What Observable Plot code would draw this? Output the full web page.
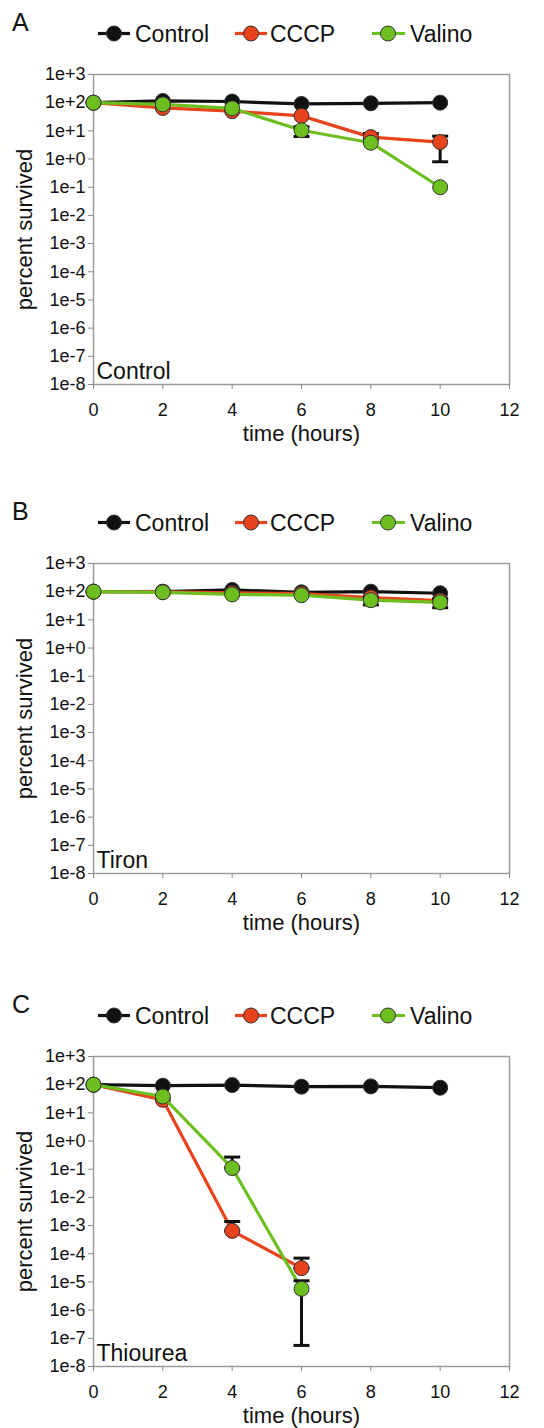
<!DOCTYPE html>
<html><head><meta charset="utf-8">
<script src="https://cdn.jsdelivr.net/npm/d3@7"></script>
<script src="https://cdn.jsdelivr.net/npm/@observablehq/plot@0.6"></script>
<style>
html,body{margin:0;padding:0;background:#fff;overflow:hidden;}
body{font-family:"Liberation Sans",Arial,sans-serif;color:#111;}
#root{position:relative;width:544px;height:1428px;overflow:hidden;}
.panel{position:absolute;left:0;width:544px;height:489px;}
.letter{position:absolute;left:12px;top:10px;font-size:25px;line-height:1;}
.legend{position:absolute;left:0;top:0;}
.plot{position:absolute;left:0;top:50px;}
</style>
</head><body>
<div id="root"></div>
<script>
// ---------- data ----------
const hours = [0, 2, 4, 6, 8, 10];
const seriesNames = ["Control", "CCCP", "Valino"];
const seriesColors = ["#111111", "#e8431c", "#6dbf1f"];
const panelLetters = ["A", "B", "C"];
const panelLabels = ["Control", "Tiron", "Thiourea"];
const panelOffsets = [0, 489, 982];

// panel A (Control)
const controlA = [100, 115, 110, 90, 95, 100];
const cccpA    = [100, 65, 50, 34, 6, 4];
const valinoA  = [100, 87, 63, 10.5, 3.8, 0.1];
// panel B (Tiron)
const controlB = [100, 100, 115, 95, 100, 88];
const cccpB    = [100, 98, 90, 85, 62, 48];
const valinoB  = [100, 95, 80, 75, 50, 42];
// panel C (Thiourea)
const controlC = [100, 92, 97, 85, 87, 78];
const cccpC    = [100, 29, 6.5e-4, 3.1e-5, null, null];
const valinoC  = [100, 38, 0.11, 5.7e-6, null, null];

// error bars: [series, hour, low, high]
const errorsA = [["CCCP", 8, 5, 8], ["CCCP", 10, 0.8, 6.5], ["Valino", 6, 6.3, 14]];
const errorsB = [["Valino", 8, 34, 62], ["Valino", 10, 27, 56]];
const errorsC = [["CCCP", 4, 6.5e-4, 1.4e-3], ["CCCP", 6, 3.1e-5, 7e-5],
                 ["Valino", 4, 0.11, 0.27], ["Valino", 6, 5.6e-8, 1.1e-5]];

const yTicks = [1e3, 1e2, 1e1, 1e0, 1e-1, 1e-2, 1e-3, 1e-4, 1e-5, 1e-6, 1e-7, 1e-8];
const xTicks = [0, 2, 4, 6, 8, 10, 12];

const panels = [
  {values: [controlA, cccpA, valinoA], errors: errorsA},
  {values: [controlB, cccpB, valinoB], errors: errorsB},
  {values: [controlC, cccpC, valinoC], errors: errorsC}
];

// ---------- drawing ----------
const FONT = "Liberation Sans, Arial, sans-serif";
const fmt = d => { const e = Math.round(Math.log10(d)); return "1e" + (e >= 0 ? "+" + e : e); };
const capSymbol = { draw(ctx) { ctx.moveTo(-8, 0); ctx.lineTo(8, 0); } };
const color = name => seriesColors[seriesNames.indexOf(name)];

function makePlot(panel, label) {
  const marks = [
    Plot.frame({stroke: "#9a9a9a", strokeWidth: 1.5}),
    Plot.axisY({ticks: yTicks, tickFormat: fmt, tickSize: 5, tickPadding: 3, fontSize: 18,
                stroke: "#888", fill: "#111", label: null}),
    Plot.axisX({ticks: xTicks, tickSize: 5, tickPadding: 14, fontSize: 18,
                stroke: "#888", fill: "#111", label: null}),
    Plot.text(["percent survived"], {frameAnchor: "left", rotate: -90, textAnchor: "middle", lineAnchor: "middle",
                                      dx: -69, fontSize: 22, fill: "#111"}),
    Plot.text(["time (hours)"], {frameAnchor: "bottom", textAnchor: "middle", lineAnchor: "bottom",
                                  dy: 56, fontSize: 22, fill: "#111"}),
    Plot.text([label], {frameAnchor: "bottom-left", textAnchor: "start", lineAnchor: "bottom", dx: 3, dy: -6, fontSize: 23, fill: "#111"})
  ];
  seriesNames.forEach((name, i) => {
    const rows = hours.map((h, j) => ({hour: h, value: panel.values[i][j]})).filter(d => d.value != null);
    const errs = panel.errors.filter(e => e[0] === name).map(e => ({hour: e[1], low: e[2], high: e[3]}));
    marks.push(Plot.line(rows, {x: "hour", y: "value", stroke: seriesColors[i], strokeWidth: 3.2}));
    if (errs.length) {
      marks.push(Plot.ruleX(errs, {x: "hour", y1: "low", y2: "high", stroke: "#111", strokeWidth: 3}));
      marks.push(Plot.dot(errs, {x: "hour", y: "high", symbol: capSymbol, stroke: "#111", fill: "none", strokeWidth: 3}));
      marks.push(Plot.dot(errs, {x: "hour", y: "low", symbol: capSymbol, stroke: "#111", fill: "none", strokeWidth: 3}));
    }
    marks.push(Plot.dot(rows, {x: "hour", y: "value", r: 7.5, fill: seriesColors[i], stroke: "#333", strokeWidth: 1}));
  });
  return Plot.plot({
    width: 544, height: 396,
    marginTop: 24, marginBottom: 62, marginLeft: 93, marginRight: 35,
    style: {fontFamily: FONT, background: "transparent", color: "#111", overflow: "visible"},
    x: {domain: [0, 12]},
    y: {type: "log", domain: [1e-8, 1e3]},
    marks
  });
}

function makeLegend() {
  const svg = d3.create("svg").attr("width", 544).attr("height", 50)
    .style("font-family", FONT);
  const items = [
    {name: seriesNames[0], x0: 98, x1: 130, cx: 114, tx: 135},
    {name: seriesNames[1], x0: 235, x1: 267, cx: 251, tx: 270},
    {name: seriesNames[2], x0: 372, x1: 405, cx: 388, tx: 410}
  ];
  const cy = 33.5;
  items.forEach(it => {
    svg.append("line").attr("x1", it.x0).attr("x2", it.x1).attr("y1", cy).attr("y2", cy)
      .attr("stroke", color(it.name)).attr("stroke-width", 3.2);
    svg.append("circle").attr("cx", it.cx).attr("cy", cy).attr("r", 7.5)
      .attr("fill", color(it.name)).attr("stroke", "#333").attr("stroke-width", 1);
    svg.append("text").attr("x", it.tx).attr("y", cy + 8.2).attr("font-size", 23)
      .attr("fill", "#111").text(it.name);
  });
  return svg.node();
}

const root = document.getElementById("root");
panels.forEach((panel, k) => {
  const div = document.createElement("div");
  div.className = "panel";
  div.style.top = panelOffsets[k] + "px";
  const legend = document.createElement("div");
  legend.className = "legend";
  legend.appendChild(makeLegend());
  div.appendChild(legend);
  const letter = document.createElement("div");
  letter.className = "letter";
  letter.textContent = panelLetters[k];
  div.appendChild(letter);
  const plotDiv = document.createElement("div");
  plotDiv.className = "plot";
  plotDiv.appendChild(makePlot(panel, panelLabels[k]));
  div.appendChild(plotDiv);
  root.appendChild(div);
});
</script>
</body></html>
